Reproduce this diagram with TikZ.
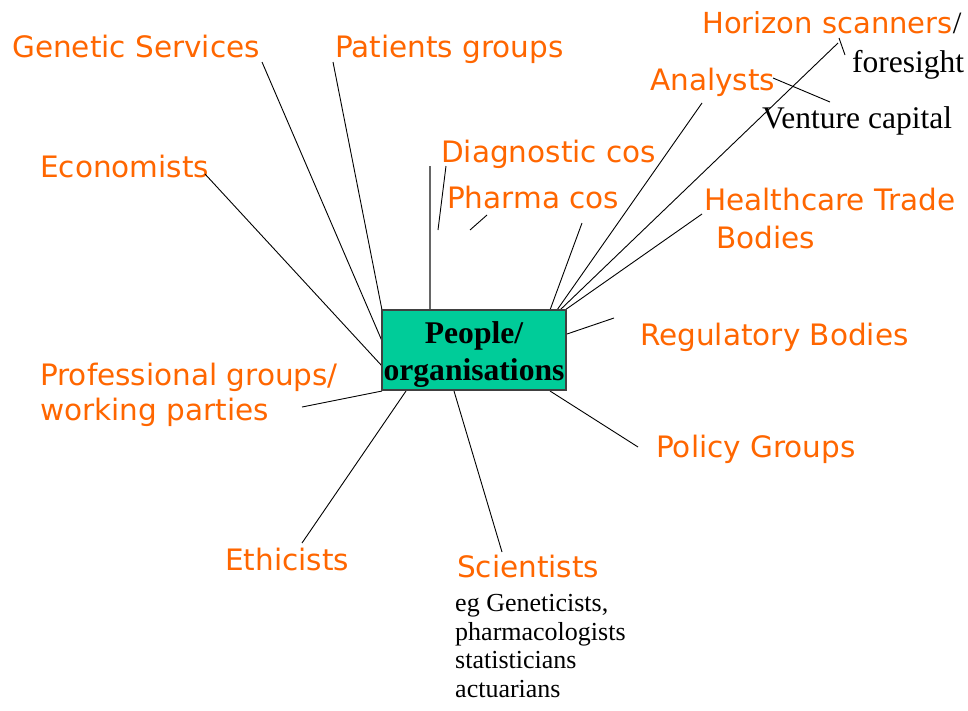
\documentclass[tikz,border=0pt]{standalone}
\usepackage{fontspec}
\setmainfont{Liberation Serif}
\newfontfamily\labelfont{DejaVu Sans}
\definecolor{labelorange}{HTML}{FF6600}
\definecolor{boxgreen}{HTML}{00CC99}
\definecolor{boxedge}{HTML}{404040}
\begin{document}
\begin{tikzpicture}[x=1pt,y=-1pt,
  lbl/.style={anchor=base west,inner sep=0pt,text=labelorange,
    font=\labelfont\fontsize{29.5}{35}\selectfont},
  note/.style={anchor=base west,inner sep=0pt,text=black,
    font=\fontsize{31.5}{37}\selectfont},
  smallnote/.style={anchor=base west,inner sep=0pt,text=black,align=left,
    font=\fontsize{26}{28.5}\selectfont},
  hub/.style={draw=boxedge,line width=1.2pt,fill=boxgreen,
    minimum width=184pt,minimum height=80pt,inner sep=0pt},
  hubtext/.style={anchor=base,inner sep=0pt,align=center,
    font=\bfseries\fontsize{31.6}{37}\selectfont},
  link/.style={draw=black,line width=0.9pt},
  stem/.style={draw=black!60,line width=1.8pt}]
\useasboundingbox (0,0) rectangle (968,710);

% central box
\node[hub] (hub) at (474,350) {};

% labels round the box
\node[lbl] (gen) at (12,57) {Genetic Services};
\node[lbl] (pat) at (335,57) {Patients groups};
\node[lbl] (eco) at (40,177) {Economists};
\node[lbl] (dia) at (441,162) {Diagnostic cos};
\node[lbl] (pha) at (447,208) {Pharma cos};
\node[lbl] (ana) at (650,90) {Analysts};
\node[lbl,font=\labelfont\fontsize{29}{35}\selectfont] (hor) at (702,33)
  {Horizon scanners{\color{black}\rmfamily\fontsize{31}{37}\selectfont/}};
\node[note] (fore) at (852,72) {foresight};
\node[note] (ven) at (762,128) {Venture capital};
\node[lbl] (hea) at (704,210) {Healthcare Trade};
\node[lbl] (heb) at (716,248) {Bodies};
\node[lbl] (reg) at (640,345) {Regulatory Bodies};
\node[lbl] (pol) at (656,457) {Policy Groups};
\node[lbl] (pro) at (40,385) {Professional groups/};
\node[lbl] (prw) at (40,420) {working parties};
\node[lbl] (eth) at (225,570) {Ethicists};
\node[lbl] (sci) at (457,577) {Scientists};
% multi-line node: its base is the baseline of the last line
\node[smallnote] (scl) at (455,697) {eg Geneticists,\\pharmacologists\\statisticians\\actuarians};

% connector ends
\coordinate (genA) at (262,62);   \coordinate (genB) at (382,341);
\coordinate (patA) at (333,62);   \coordinate (patB) at (382,310);
\coordinate (ecoA) at (205,174);  \coordinate (ecoB) at (382,366);
\coordinate (proA) at (302,407);  \coordinate (proB) at (382,391);
\coordinate (ethA) at (302,543);  \coordinate (ethB) at (406,391);
\coordinate (sciA) at (502,552);  \coordinate (sciB) at (454,391);
\coordinate (polA) at (638,447);  \coordinate (polB) at (550,391);
\coordinate (regA) at (614,318);  \coordinate (regB) at (567,334);
\coordinate (phaA) at (582,223);  \coordinate (phaB) at (550,310);
\coordinate (anaA) at (702,103);  \coordinate (anaB) at (557,310);
\coordinate (horA) at (838,43);   \coordinate (horB) at (560,310);
\coordinate (heaA) at (702,214);  \coordinate (heaB) at (565,310);
\coordinate (diaA) at (430,166);  \coordinate (diaB) at (430,310);
\coordinate (diaC) at (446,166);  \coordinate (diaD) at (438,230);
\coordinate (phaC) at (487,215);  \coordinate (phaD) at (470,230);
\coordinate (venA) at (773,78);   \coordinate (venB) at (830,102);
\coordinate (forA) at (839,38);   \coordinate (forB) at (845,55);

% connectors
\draw[link] (genA) -- (genB);
\draw[link] (patA) -- (patB);
\draw[link] (ecoA) -- (ecoB);
\draw[link] (proA) -- (proB);
\draw[link] (ethA) -- (ethB);
\draw[link] (sciA) -- (sciB);
\draw[link] (polA) -- (polB);
\draw[link] (regA) -- (regB);
\draw[link] (phaA) -- (phaB);
\draw[link] (anaA) -- (anaB);
\draw[link] (horA) -- (horB);
\draw[link] (heaA) -- (heaB);
\draw[stem] (diaA) -- (diaB);
\draw[link] (diaC) -- (diaD);
\draw[link] (phaC) -- (phaD);
\draw[link] (venA) -- (venB);
\draw[link] (forA) -- (forB);

% box drawn again over the line ends, then its text
\node[hub] at (hub) {};
\node[hubtext] (hubtext) at (474,380) {People/\\organisations};
\end{tikzpicture}
\end{document}
